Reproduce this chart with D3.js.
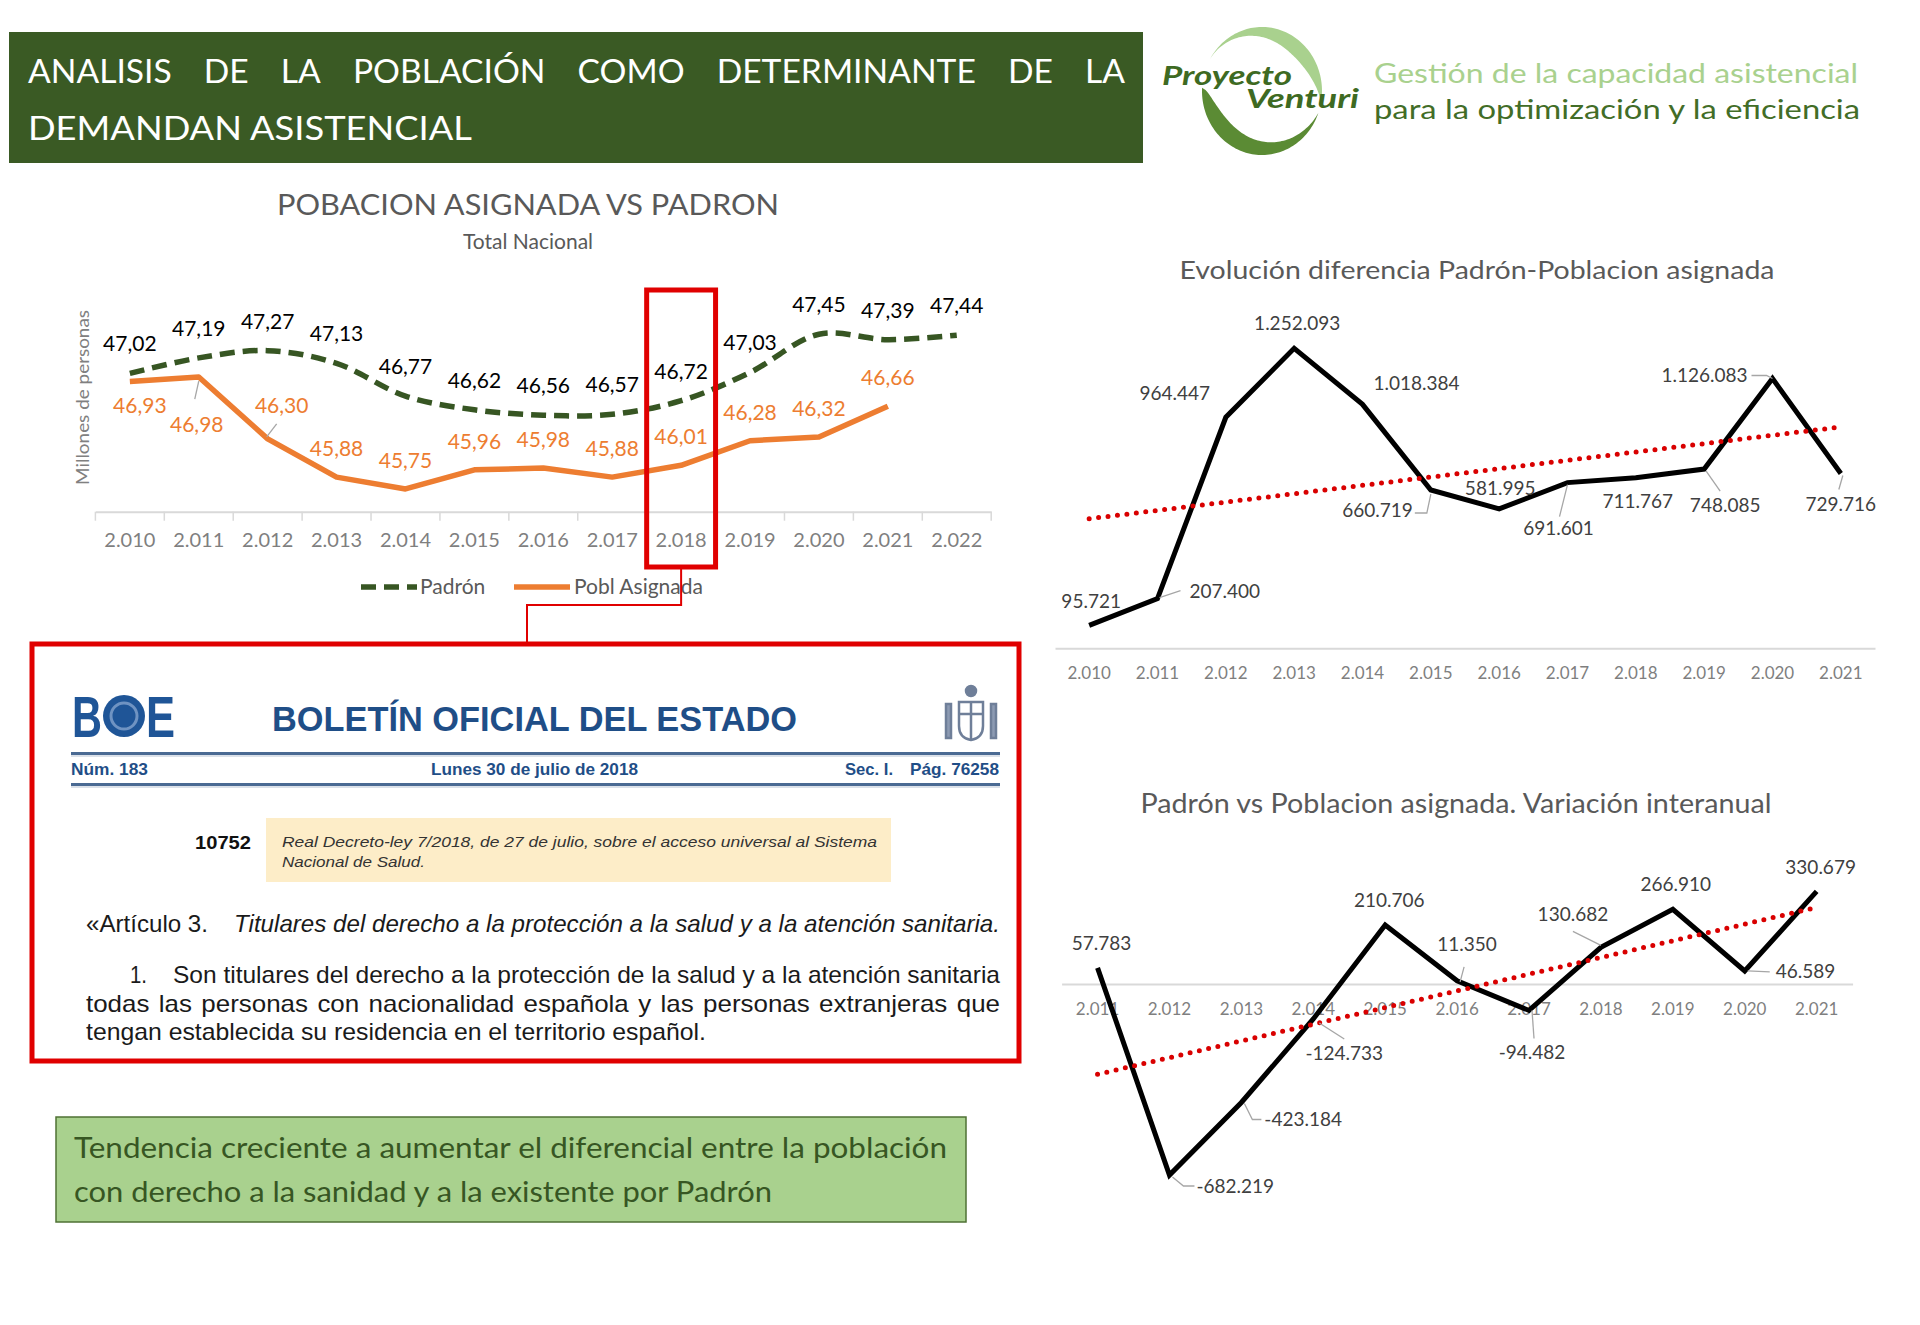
<!DOCTYPE html>
<html>
<head>
<meta charset="utf-8">
<script src="https://cdn.jsdelivr.net/npm/d3@7"></script>
<style>
  body { margin: 0; background: #fff; }
  svg { display: block; }
</style>
</head>
<body>
<script>
// ---- data ----
const years = ["2.010", "2.011", "2.012", "2.013", "2.014", "2.015", "2.016", "2.017", "2.018", "2.019", "2.020", "2.021", "2.022"];
const padron = [47.02, 47.19, 47.27, 47.13, 46.77, 46.62, 46.56, 46.57, 46.72, 47.03, 47.45, 47.39, 47.44];
const poblAsignada = [46.93, 46.98, 46.30, 45.88, 45.75, 45.96, 45.98, 45.88, 46.01, 46.28, 46.32, 46.66];

const diffYears = ["2.010", "2.011", "2.012", "2.013", "2.014", "2.015", "2.016", "2.017", "2.018", "2.019", "2.020", "2.021"];
const diffValues = [95721, 207400, 964447, 1252093, 1018384, 660719, 581995, 691601, 711767, 748085, 1126083, 729716];

const varYears = ["2.011", "2.012", "2.013", "2.014", "2.015", "2.016", "2.017", "2.018", "2.019", "2.020", "2.021"];
const varValues = [57783, -682219, -423184, -124733, 210706, 11350, -94482, 130682, 266910, 46589, 330679];

// label placement (dx, dy from the point, anchor, optional leader polyline)
const poblLabelPos = {
  0: { dx: 10, dy: 31 },
  1: { dx: -2, dy: 55, leader: [[0, 4], [-4, 22]] },
  2: { dx: 14, dy: -26, leader: [[-1, -2], [9, -15]] }
};
const diffLabelPos = [
  { dx: 2, dy: -17 },
  { dx: 32, dy: -1, anchor: "start", leader: [[2, -1], [23, -8]] },
  { dx: -51, dy: -17 },
  { dx: 3, dy: -18 },
  { dx: 54, dy: -14 },
  { dx: -18, dy: 27, anchor: "end", leader: [[-16, 23], [-4, 23], [0, 4]] },
  { dx: 1, dy: -14 },
  { dx: -9, dy: 52, leader: [[0, 2], [-8, 34]] },
  { dx: 2, dy: 30 },
  { dx: 21, dy: 43, leader: [[2, 2], [16, 22]] },
  { dx: -25, dy: 3, anchor: "end", leader: [[-21, -3], [-6, -3], [0, 0]] },
  { dx: 0, dy: 38, leader: [[2, 2], [-2, 16]] }
];
const varLabelPos = [
  { dx: 4, dy: -18 },
  { dx: 27, dy: 18, anchor: "start", leader: [[3, 2], [14, 11], [25, 11]] },
  { dx: 23, dy: 24, anchor: "start", leader: [[3, 1], [11, 17], [20, 17]] },
  { dx: 31, dy: 41, leader: [[6, 4], [31, 20]] },
  { dx: 4, dy: -18 },
  { dx: 10, dy: -30, leader: [[3, 1], [7, -14]] },
  { dx: 3, dy: 49, leader: [[3, 0], [5, 28]] },
  { dx: -28, dy: -26, leader: [[0, -2], [-28, -16]] },
  { dx: 3, dy: -18 },
  { dx: 31, dy: 7, anchor: "start", leader: [[3, 0], [25, 1]] },
  { dx: 4, dy: -17 }
];

const esLocale = d3.formatLocale({ decimal: ",", thousands: ".", grouping: [3], currency: ["", ""], minus: "-" });
const fmtDec = esLocale.format(".2f");
const fmtInt = esLocale.format(",d");

const FONT = "Lato, 'Open Sans', sans-serif";
const NARROW = "'Liberation Sans Narrow', 'Liberation Sans', Arial, sans-serif";

const svg = d3.select("body").append("svg")
  .attr("width", 1920)
  .attr("height", 1325)
  .style("font-family", FONT);

// ---------- header ----------
svg.append("rect")
  .attr("x", 9).attr("y", 32).attr("width", 1134).attr("height", 131)
  .attr("fill", "#3a5a24");

function justify(g, words, x0, x1, y, stretch, style) {
  const nodes = words.map(w => {
    const t = g.append("text").text(w).attr("y", y);
    style(t);
    return t;
  });
  const widths = nodes.map(t => t.node().getComputedTextLength() * stretch);
  nodes.forEach((t, i) => t.attr("textLength", widths[i]).attr("lengthAdjust", "spacingAndGlyphs"));
  const gap = (x1 - x0 - d3.sum(widths)) / (words.length - 1);
  let x = x0;
  nodes.forEach((t, i) => { t.attr("x", x); x += widths[i] + gap; });
}

const headerStyle = t => t.attr("fill", "#fff").attr("font-size", 32);
justify(svg.append("g"), "ANALISIS DE LA POBLACIÓN COMO DETERMINANTE DE LA".split(" "), 28, 1125, 83, 1.05, headerStyle);
svg.append("text")
  .attr("x", 28).attr("y", 140)
  .attr("fill", "#fff").attr("font-size", 32)
  .attr("textLength", 444).attr("lengthAdjust", "spacingAndGlyphs")
  .text("DEMANDAN ASISTENCIAL");

// ---------- logo ----------
function crescent(cx, cy, rx, ry, a0, a1, wMax, p) {
  const n = 80, outer = [], inner = [];
  for (let i = 0; i <= n; i++) {
    const t = i / n;
    const a = (a0 + (a1 - a0) * t) * Math.PI / 180;
    const w = wMax * Math.sin(Math.PI * Math.pow(t, p));
    outer.push([cx + rx * Math.cos(a), cy + ry * Math.sin(a)]);
    inner.push([cx + (rx - w) * Math.cos(a), cy + (ry - w) * Math.sin(a)]);
  }
  return d3.line()(outer.concat(inner.reverse())) + "Z";
}
svg.append("path").attr("d", crescent(1262, 91, 60, 64, 209, 370, 15, 1.5)).attr("fill", "#a9d18e");
svg.append("path").attr("d", crescent(1262, 91, 60, 64, 183, 20, 17, 0.62)).attr("fill", "#5b8b34");

svg.append("text")
  .attr("x", 1162).attr("y", 85)
  .attr("font-size", 27).attr("font-weight", 700).attr("font-style", "italic")
  .attr("fill", "#3e6a22")
  .attr("textLength", 130).attr("lengthAdjust", "spacingAndGlyphs")
  .text("Proyecto");
svg.append("text")
  .attr("x", 1246).attr("y", 108)
  .attr("font-size", 27).attr("font-weight", 700).attr("font-style", "italic")
  .attr("fill", "#3e6a22")
  .attr("textLength", 113).attr("lengthAdjust", "spacingAndGlyphs")
  .text("Venturi");
svg.append("text")
  .attr("x", 1374).attr("y", 83)
  .attr("font-size", 27).attr("fill", "#a9d18e")
  .attr("textLength", 484).attr("lengthAdjust", "spacingAndGlyphs")
  .text("Gestión de la capacidad asistencial");
svg.append("text")
  .attr("x", 1374).attr("y", 119)
  .attr("font-size", 27).attr("fill", "#426d27")
  .attr("textLength", 486).attr("lengthAdjust", "spacingAndGlyphs")
  .text("para la optimización y la eficiencia");

// ---------- left chart: Poblacion asignada vs Padron ----------
const gl = svg.append("g");
const xL = d3.scaleBand().domain(years).range([95.4, 991.2]);
const yL = d3.scaleLinear().domain([45.5, 47.5]).range([511.7, 329.7]);
const cxL = y => xL(y) + xL.bandwidth() / 2;

gl.append("text")
  .attr("x", 528).attr("y", 215).attr("text-anchor", "middle")
  .attr("font-size", 28).attr("fill", "#595959")
  .attr("textLength", 502).attr("lengthAdjust", "spacingAndGlyphs")
  .text("POBACION ASIGNADA VS PADRON");
gl.append("text")
  .attr("x", 528).attr("y", 249).attr("text-anchor", "middle")
  .attr("font-size", 21).attr("fill", "#595959")
  .text("Total Nacional");
gl.append("text")
  .attr("transform", "translate(89,397.5) rotate(-90)")
  .attr("text-anchor", "middle")
  .attr("font-size", 17).attr("fill", "#808080")
  .attr("textLength", 175).attr("lengthAdjust", "spacingAndGlyphs")
  .text("Millones de personas");

const axL = gl.append("g")
  .attr("transform", `translate(0,${yL.range()[0]})`)
  .call(d3.axisBottom(xL).tickSize(0).tickSizeOuter(0));
axL.select(".domain").attr("stroke", "#d9d9d9").attr("stroke-width", 2);
axL.selectAll("text")
  .attr("y", 35).attr("dy", 0)
  .attr("font-family", FONT).attr("font-size", 20).attr("fill", "#7f7f7f");
gl.append("g").selectAll("line")
  .data(d3.range(years.length + 1))
  .join("line")
  .attr("x1", i => xL.range()[0] + i * xL.step())
  .attr("x2", i => xL.range()[0] + i * xL.step())
  .attr("y1", yL.range()[0]).attr("y2", yL.range()[0] + 9)
  .attr("stroke", "#d9d9d9").attr("stroke-width", 1.5);

const lineSmooth = d3.line()
  .x((d, i) => cxL(years[i]))
  .y(d => yL(d))
  .curve(d3.curveCatmullRom.alpha(0.5));
const lineStraight = d3.line()
  .x((d, i) => cxL(years[i]))
  .y(d => yL(d));

gl.append("path")
  .attr("d", lineSmooth(padron))
  .attr("fill", "none").attr("stroke", "#375623")
  .attr("stroke-width", 5.5).attr("stroke-dasharray", "15 8");
gl.append("path")
  .attr("d", lineStraight(poblAsignada))
  .attr("fill", "none").attr("stroke", "#ed7d31")
  .attr("stroke-width", 5.5).attr("stroke-linejoin", "round");

gl.append("g").selectAll("text")
  .data(padron)
  .join("text")
  .attr("x", (d, i) => cxL(years[i]))
  .attr("y", d => yL(d) - 22)
  .attr("text-anchor", "middle")
  .attr("font-size", 21).attr("fill", "#000")
  .text(d => fmtDec(d));

poblAsignada.forEach((d, i) => {
  const p = poblLabelPos[i] || { dx: 0, dy: -21 };
  const px = cxL(years[i]), py = yL(d);
  if (p.leader) {
    gl.append("polyline")
      .attr("points", p.leader.map(q => [px + q[0], py + q[1]].join(",")).join(" "))
      .attr("fill", "none").attr("stroke", "#a6a6a6").attr("stroke-width", 1.3);
  }
  gl.append("text")
    .attr("x", px + p.dx).attr("y", py + p.dy)
    .attr("text-anchor", "middle")
    .attr("font-size", 21).attr("fill", "#ed7d31")
    .text(fmtDec(d));
});

// legend
const lg = gl.append("g").attr("transform", "translate(0,587)");
lg.append("line").attr("x1", 361).attr("x2", 417).attr("y1", 0).attr("y2", 0)
  .attr("stroke", "#375623").attr("stroke-width", 5.5).attr("stroke-dasharray", "15 8");
lg.append("text").attr("x", 420).attr("y", 7).attr("font-size", 21).attr("fill", "#595959").text("Padrón");
lg.append("line").attr("x1", 514).attr("x2", 570).attr("y1", 0).attr("y2", 0)
  .attr("stroke", "#ed7d31").attr("stroke-width", 5.5);
lg.append("text").attr("x", 574).attr("y", 7).attr("font-size", 21).attr("fill", "#595959").text("Pobl Asignada");

// 2018 highlight and connector to the BOE extract
const hx = xL("2.018");
gl.append("rect")
  .attr("x", hx).attr("y", 290)
  .attr("width", xL.step()).attr("height", 277)
  .attr("fill", "none").attr("stroke", "#e00000").attr("stroke-width", 5);
gl.append("path")
  .attr("d", `M${hx + xL.step() / 2},567 V605 H527 V644`)
  .attr("fill", "none").attr("stroke", "#e00000").attr("stroke-width", 2);

// ---------- BOE extract ----------
const gb = svg.append("g").style("font-family", NARROW);
gb.append("rect")
  .attr("x", 32).attr("y", 644).attr("width", 987).attr("height", 417)
  .attr("fill", "#fff").attr("stroke", "#e00000").attr("stroke-width", 5);

// BOE mark
gb.append("text").attr("x", 72).attr("y", 737)
  .attr("font-size", 58).attr("font-weight", 700).attr("fill", "#1f5597")
  .attr("textLength", 30).attr("lengthAdjust", "spacingAndGlyphs").text("B");
gb.append("circle").attr("cx", 124).attr("cy", 716).attr("r", 21).attr("fill", "#1f5597");
gb.append("circle").attr("cx", 124).attr("cy", 716).attr("r", 13).attr("fill", "none")
  .attr("stroke", "#6f93c2").attr("stroke-width", 3);
gb.append("text").attr("x", 146).attr("y", 737)
  .attr("font-size", 58).attr("font-weight", 700).attr("fill", "#1f5597")
  .attr("textLength", 29).attr("lengthAdjust", "spacingAndGlyphs").text("E");

gb.append("text").attr("x", 272).attr("y", 731)
  .attr("font-size", 35).attr("font-weight", 700).attr("fill", "#1f4e87")
  .attr("textLength", 525).attr("lengthAdjust", "spacingAndGlyphs")
  .text("BOLETÍN OFICIAL DEL ESTADO");

// coat of arms, simplified
const ca = gb.append("g").attr("fill", "none").attr("stroke", "#6f7f99").attr("stroke-width", 2.5);
ca.append("circle").attr("cx", 971).attr("cy", 691).attr("r", 5).attr("fill", "#6f7f99");
ca.append("path").attr("d", "M959,702 H983 V726 Q983,738 971,740 Q959,738 959,726 Z");
ca.append("path").attr("d", "M959,714 H983 M971,702 V740");
ca.append("rect").attr("x", 946).attr("y", 704).attr("width", 5).attr("height", 34).attr("fill", "#8d9bb3");
ca.append("rect").attr("x", 991).attr("y", 704).attr("width", 5).attr("height", 34).attr("fill", "#8d9bb3");

[753.5, 784.5].forEach(y => {
  gb.append("line").attr("x1", 71).attr("x2", 1000).attr("y1", y).attr("y2", y)
    .attr("stroke", "#4a6a93").attr("stroke-width", 3);
  gb.append("line").attr("x1", 71).attr("x2", 1000).attr("y1", y + 2.5).attr("y2", y + 2.5)
    .attr("stroke", "#b7c3d3").attr("stroke-width", 1);
});
const boeSmall = t => t.attr("font-size", 17).attr("font-weight", 700).attr("fill", "#1f4e87");
boeSmall(gb.append("text").attr("x", 71).attr("y", 775)
  .attr("textLength", 77).attr("lengthAdjust", "spacingAndGlyphs").text("Núm. 183"));
boeSmall(gb.append("text").attr("x", 431).attr("y", 775)
  .attr("textLength", 207).attr("lengthAdjust", "spacingAndGlyphs").text("Lunes 30 de julio de 2018"));
boeSmall(gb.append("text").attr("x", 845).attr("y", 775)
  .attr("textLength", 48).attr("lengthAdjust", "spacingAndGlyphs").text("Sec. I."));
boeSmall(gb.append("text").attr("x", 910).attr("y", 775)
  .attr("textLength", 89).attr("lengthAdjust", "spacingAndGlyphs").text("Pág. 76258"));

gb.append("rect").attr("x", 266).attr("y", 818).attr("width", 625).attr("height", 64).attr("fill", "#fdedc8");
gb.append("text").attr("x", 251).attr("y", 849).attr("text-anchor", "end")
  .attr("font-size", 19).attr("font-weight", 700).attr("fill", "#111")
  .attr("textLength", 56).attr("lengthAdjust", "spacingAndGlyphs").text("10752");
gb.append("text").attr("x", 282).attr("y", 847)
  .attr("font-size", 15).attr("font-style", "italic").attr("fill", "#333")
  .attr("textLength", 595).attr("lengthAdjust", "spacingAndGlyphs")
  .text("Real Decreto-ley 7/2018, de 27 de julio, sobre el acceso universal al Sistema");
gb.append("text").attr("x", 282).attr("y", 867)
  .attr("font-size", 15).attr("font-style", "italic").attr("fill", "#333")
  .attr("textLength", 143).attr("lengthAdjust", "spacingAndGlyphs")
  .text("Nacional de Salud.");

const bodyStyle = t => t.attr("font-size", 24).attr("fill", "#1a1a1a");
bodyStyle(gb.append("text").attr("x", 86).attr("y", 932)
  .attr("textLength", 122).attr("lengthAdjust", "spacingAndGlyphs").text("«Artículo 3."));
bodyStyle(gb.append("text").attr("x", 234).attr("y", 932).attr("font-style", "italic")
  .attr("textLength", 766).attr("lengthAdjust", "spacingAndGlyphs")
  .text("Titulares del derecho a la protección a la salud y a la atención sanitaria."));
bodyStyle(gb.append("text").attr("x", 130).attr("y", 983)
  .attr("textLength", 17).attr("lengthAdjust", "spacingAndGlyphs").text("1."));
bodyStyle(gb.append("text").attr("x", 173).attr("y", 983)
  .attr("textLength", 827).attr("lengthAdjust", "spacingAndGlyphs")
  .text("Son titulares del derecho a la protección de la salud y a la atención sanitaria"));
justify(gb.append("g"), "todas las personas con nacionalidad española y las personas extranjeras que".split(" "),
  86, 1000, 1012, 1.08, bodyStyle);
bodyStyle(gb.append("text").attr("x", 86).attr("y", 1040)
  .attr("textLength", 620).attr("lengthAdjust", "spacingAndGlyphs")
  .text("tengan establecida su residencia en el territorio español."));

// ---------- conclusion box ----------
svg.append("rect")
  .attr("x", 56).attr("y", 1117).attr("width", 910).attr("height", 105)
  .attr("fill", "#a9d18e").attr("stroke", "#4f7135").attr("stroke-width", 1.5);
svg.append("text").attr("x", 74).attr("y", 1158)
  .attr("font-size", 28).attr("fill", "#375623")
  .attr("textLength", 873).attr("lengthAdjust", "spacingAndGlyphs")
  .text("Tendencia creciente a aumentar el diferencial entre la población");
svg.append("text").attr("x", 74).attr("y", 1202)
  .attr("font-size", 28).attr("fill", "#375623")
  .attr("textLength", 698).attr("lengthAdjust", "spacingAndGlyphs")
  .text("con derecho a la sanidad y a la existente por Padrón");

// ---------- helpers for the two right charts ----------
function trendFn(vals) {
  const xm = (vals.length - 1) / 2, ym = d3.mean(vals);
  let sxy = 0, sxx = 0;
  vals.forEach((v, i) => { sxy += (i - xm) * (v - ym); sxx += (i - xm) ** 2; });
  const b = sxy / sxx;
  return i => ym + b * (i - xm);
}

function drawSeries(g, cats, vals, x, y, pos) {
  const cx = c => x(c) + x.bandwidth() / 2;
  const t = trendFn(vals);

  g.append("path")
    .attr("d", d3.line().x((d, i) => cx(cats[i])).y(d => y(d))(vals))
    .attr("fill", "none").attr("stroke", "#000").attr("stroke-width", 5)
    .attr("stroke-linejoin", "miter");

  g.append("line")
    .attr("x1", cx(cats[0])).attr("y1", y(t(0)))
    .attr("x2", cx(cats[cats.length - 1])).attr("y2", y(t(vals.length - 1)))
    .attr("stroke", "#d90000").attr("stroke-width", 5)
    .attr("stroke-linecap", "round").attr("stroke-dasharray", "0 9.5");

  vals.forEach((v, i) => {
    const p = pos[i], px = cx(cats[i]), py = y(v);
    if (p.leader) {
      g.append("polyline")
        .attr("points", p.leader.map(q => [px + q[0], py + q[1]].join(",")).join(" "))
        .attr("fill", "none").attr("stroke", "#a6a6a6").attr("stroke-width", 1.3);
    }
    g.append("text")
      .attr("x", px + p.dx).attr("y", py + p.dy)
      .attr("text-anchor", p.anchor || "middle")
      .attr("font-size", 19).attr("fill", "#404040")
      .text(fmtInt(v));
  });
}

// ---------- right top: evolución diferencia ----------
const gd = svg.append("g");
const xD = d3.scaleBand().domain(diffYears).range([1055, 1875]);
const yD = d3.scaleLinear().domain([0, 1400000]).range([648.3, 312.9]);

gd.append("text")
  .attr("x", 1477).attr("y", 279).attr("text-anchor", "middle")
  .attr("font-size", 25).attr("fill", "#595959")
  .attr("textLength", 595).attr("lengthAdjust", "spacingAndGlyphs")
  .text("Evolución diferencia Padrón-Poblacion asignada");

const axD = gd.append("g")
  .attr("transform", `translate(0,${yD(0)})`)
  .call(d3.axisBottom(xD).tickSize(0).tickSizeOuter(0));
axD.select(".domain").attr("stroke", "#d9d9d9").attr("stroke-width", 2);
axD.selectAll("text")
  .attr("y", 31).attr("dy", 0)
  .attr("font-family", FONT).attr("font-size", 17).attr("fill", "#7f7f7f");

drawSeries(gd, diffYears, diffValues, xD, yD, diffLabelPos);

// ---------- right bottom: variación interanual ----------
const gv = svg.append("g");
const xV = d3.scaleBand().domain(varYears).range([1061.6, 1852.6]);
const yV = d3.scaleLinear().domain([-800000, 400000]).range([1208, 872]);

gv.append("text")
  .attr("x", 1456).attr("y", 813).attr("text-anchor", "middle")
  .attr("font-size", 26).attr("fill", "#595959")
  .attr("textLength", 631).attr("lengthAdjust", "spacingAndGlyphs")
  .text("Padrón vs Poblacion asignada. Variación interanual");

const axV = gv.append("g")
  .attr("transform", `translate(0,${yV(0)})`)
  .call(d3.axisBottom(xV).tickSize(0).tickSizeOuter(0));
axV.select(".domain").attr("stroke", "#d9d9d9").attr("stroke-width", 2);
axV.selectAll("text")
  .attr("y", 31).attr("dy", 0)
  .attr("font-family", FONT).attr("font-size", 17).attr("fill", "#7f7f7f");

drawSeries(gv, varYears, varValues, xV, yV, varLabelPos);
</script>
</body>
</html>
